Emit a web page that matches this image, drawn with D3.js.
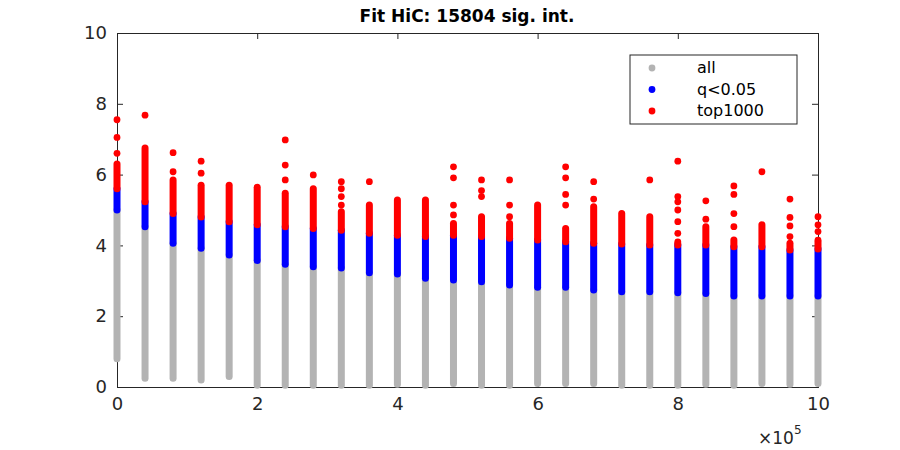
<!DOCTYPE html>
<html><head><meta charset="utf-8">
<script src="https://cdn.jsdelivr.net/npm/d3@7"></script>
<style>body{margin:0;background:#fff}svg{font-family:"DejaVu Sans",sans-serif}</style>
</head><body><svg id="c" width="900" height="450"></svg>
<script>
const distances = d3.range(26).map(i => i * 40000);
const allMin   = [0.8,0.25,0.25,0.2,0.3,0.05,0.05,0.05,0.05,0.05,0.08,0.05,0.1,0.05,0.05,0.1,0.1,0.1,0.05,0.05,0.05,0.08,0.05,0.1,0.08,0.1];
const qStart   = [5.0,4.53,4.06,3.92,3.73,3.57,3.47,3.4,3.36,3.23,3.19,3.07,3.02,2.97,2.88,2.82,2.82,2.74,2.69,2.69,2.66,2.64,2.57,2.57,2.57,2.57];
const topStart = [5.6,5.23,4.9,4.8,4.67,4.58,4.53,4.48,4.43,4.34,4.29,4.25,4.29,4.25,4.2,4.15,4.1,4.06,4.04,4.01,4.01,4.01,3.96,3.96,3.87,3.9];
const topDense = [6.3,6.75,5.85,5.7,5.7,5.64,5.47,5.6,4.95,5.14,5.28,5.28,4.62,4.81,4.62,5.14,4.48,5.09,4.9,4.81,4.05,4.53,4.15,4.58,4.06,4.1];
const outliers = [[7.55,7.05,6.6],[7.68],[6.62,6.08],[6.38,6.04],[],[],[6.98,6.27,5.85],[5.99],[5.8,5.6,5.38,5.14],[5.8],[],[],
  [6.22,5.91,5.14,4.86],[5.85,5.55,5.38],[5.85,5.14,4.81],[],[6.22,5.91,5.44,5.14],[5.8,5.31],[],[5.85],
  [6.38,5.38,5.23,5.0,4.67,4.34,4.1],[5.26,4.74],[5.68,5.44,4.9,4.53],[6.08],[5.31,4.79,4.55,4.25],[4.81,4.58,4.39,4.15]];
const xTicks = [0,2e5,4e5,6e5,8e5,1e6];
const yTicks = [0,2,4,6,8,10];
const legendLabels = ["all","q<0.05","top1000"];
const colors = ["#b3b3b3","#0000ff","#ff0000"];

const svg = d3.select("#c");
const x = d3.scaleLinear().domain([0,1e6]).range([117,818]);
const y = d3.scaleLinear().domain([0,10]).range([387,33]);
const W = 7;
// axes
const fmt = v => (v/1e5).toString();
svg.append("g").attr("transform","translate(0,387)").call(d3.axisBottom(x).tickValues(xTicks).tickFormat(fmt).tickSize(-6).tickPadding(10));
svg.append("g").attr("transform","translate(0,33)").call(d3.axisTop(x).tickValues(xTicks).tickFormat("").tickSize(-6));
svg.append("g").attr("transform","translate(117,0)").call(d3.axisLeft(y).tickValues(yTicks).tickSize(-6).tickPadding(10));
svg.append("g").attr("transform","translate(818,0)").call(d3.axisRight(y).tickValues(yTicks).tickFormat("").tickSize(-6));
svg.selectAll(".domain").attr("stroke","#262626").attr("stroke-width",1);
svg.selectAll(".tick line").attr("stroke","#262626");
svg.selectAll(".tick text").attr("font-size",18).attr("fill","#262626").attr("font-family","DejaVu Sans");
const cols = distances.map((d,i)=>({d, segs:[[allMin[i],qStart[i],0],[qStart[i],topStart[i],1],[topStart[i],topDense[i],2]], out:outliers[i]}));
const g = svg.append("g");
cols.forEach(c=>{
  c.segs.forEach(s=>{
    g.append("line").attr("x1",x(c.d)).attr("x2",x(c.d)).attr("y1",y(s[0])).attr("y2",y(s[1]))
      .attr("stroke",colors[s[2]]).attr("stroke-width",W).attr("stroke-linecap","round");
  });
  c.out.forEach(v=>g.append("circle").attr("cx",x(c.d)).attr("cy",y(v)).attr("r",3.4).attr("fill",colors[2]));
});
svg.append("text").attr("x",758).attr("y",444).attr("font-size",17).attr("fill","#262626").text("×10");
svg.append("text").attr("x",794).attr("y",434).attr("font-size",12).attr("fill","#262626").text("5");
svg.append("text").attr("x",467).attr("y",22).attr("text-anchor","middle").attr("font-size",17).attr("font-weight","bold").attr("fill","#000").text("Fit HiC: 15804 sig. int.");
// legend
const lg = svg.append("g");
lg.append("rect").attr("x",630).attr("y",55).attr("width",167).attr("height",69).attr("fill","#fff").attr("stroke","#262626");
legendLabels.forEach((l,i)=>{
  const yy = 68 + i*21.5;
  lg.append("circle").attr("cx",652).attr("cy",yy).attr("r",3.4).attr("fill",colors[i]);
  lg.append("text").attr("x",697).attr("y",yy+5).attr("font-size",16).attr("fill","#000").text(l);
});
</script></body></html>
